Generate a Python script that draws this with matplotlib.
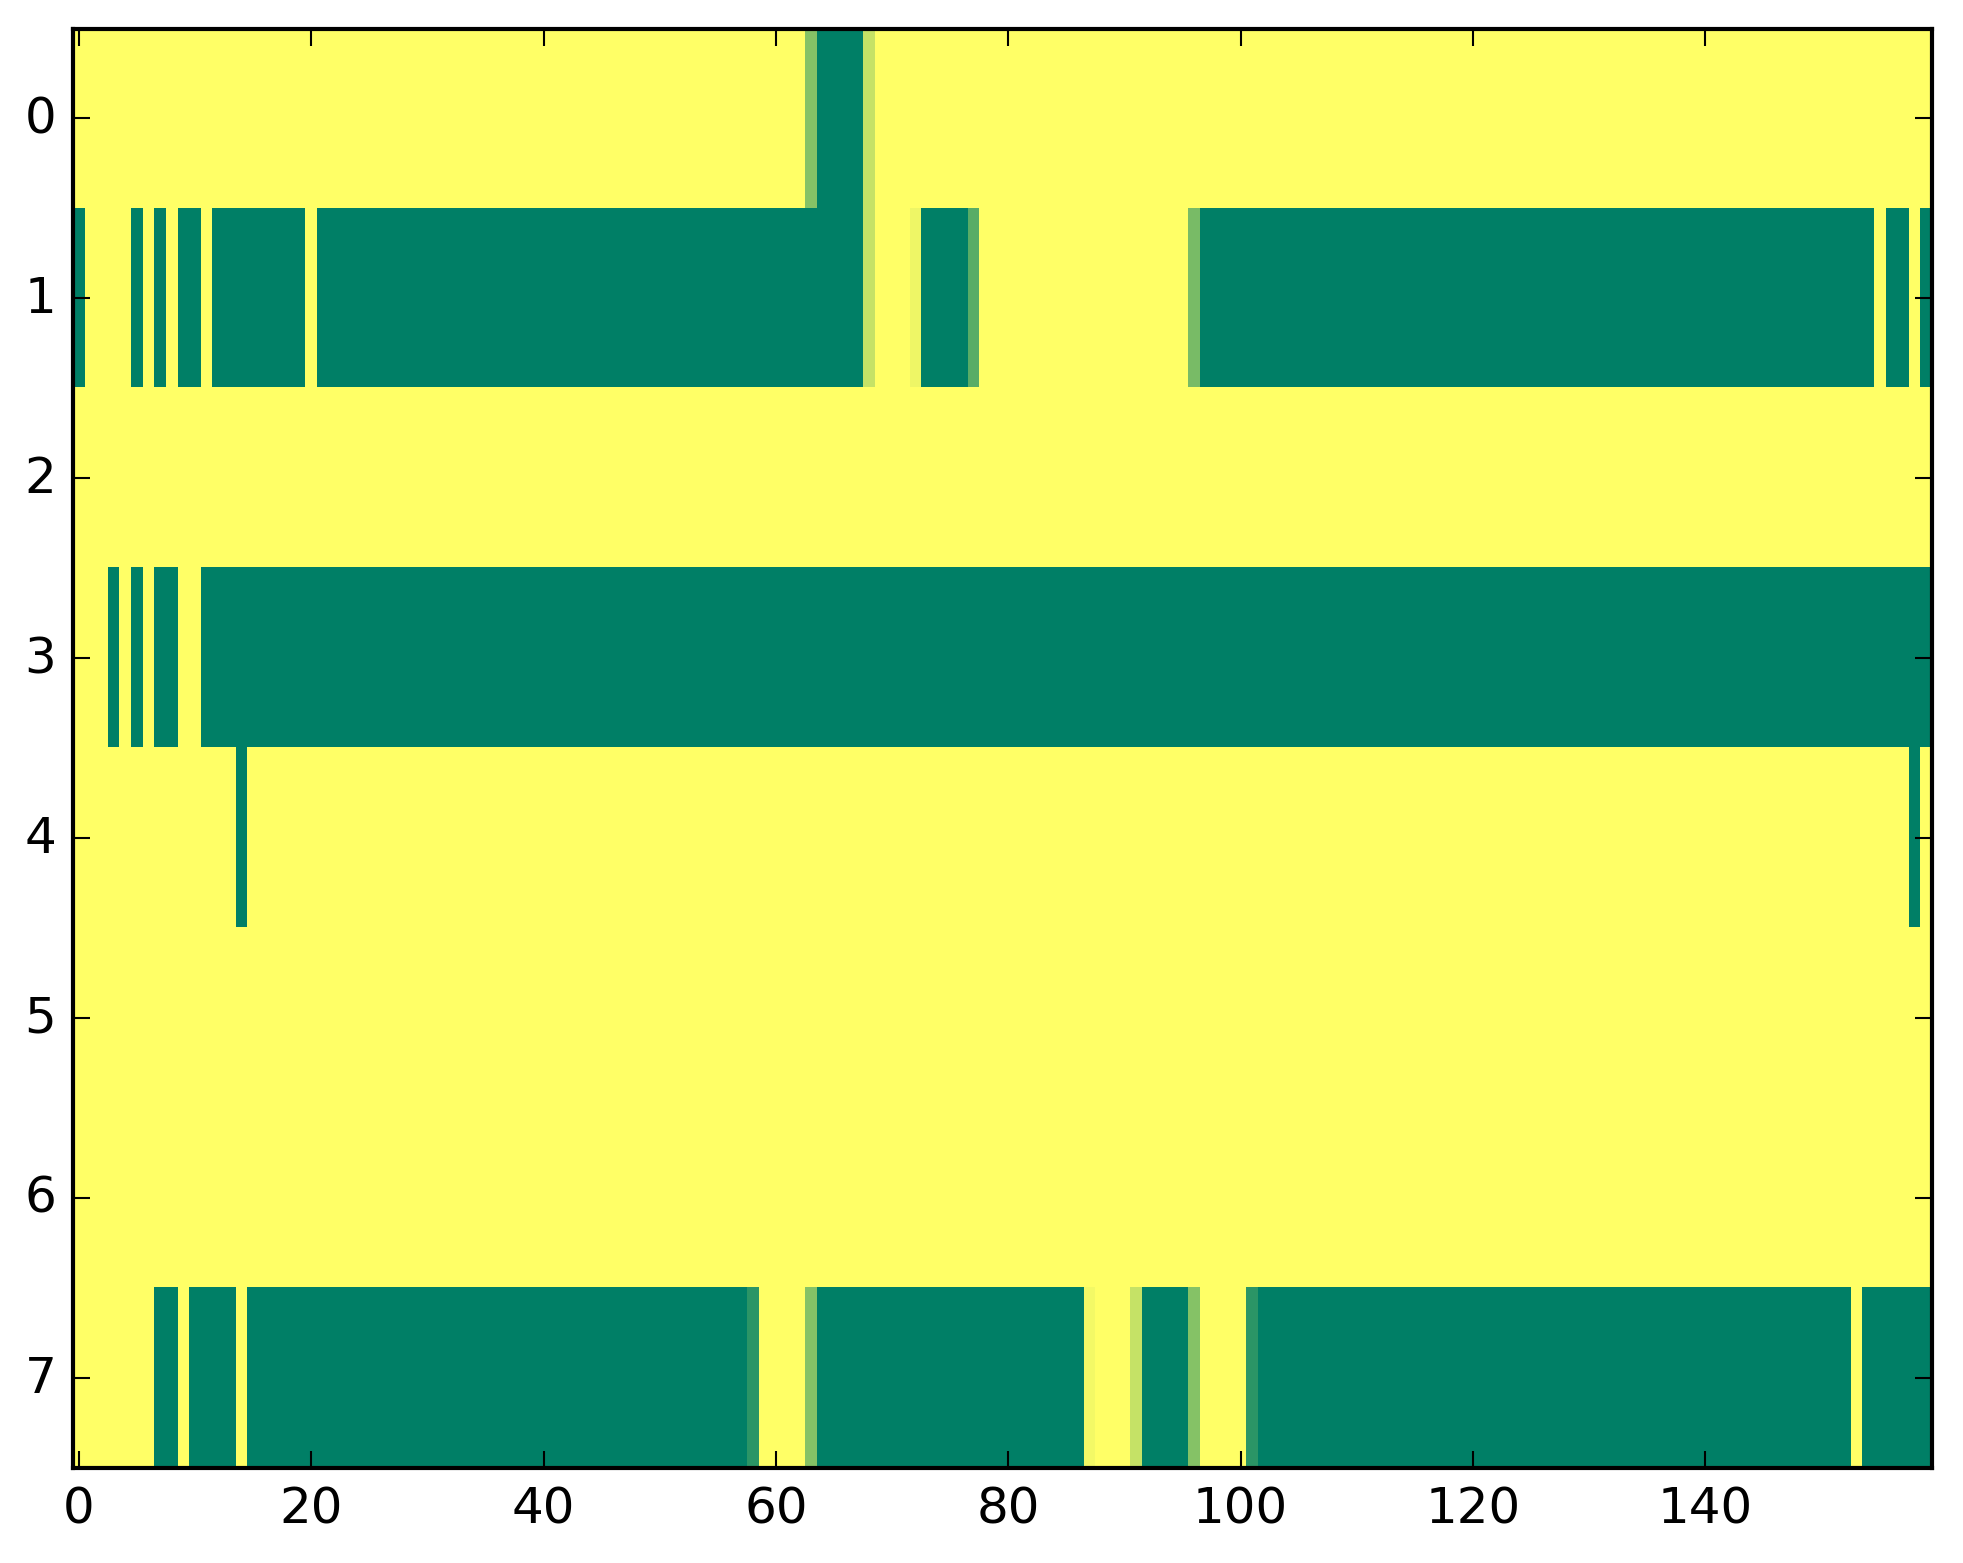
import numpy as np
import matplotlib
matplotlib.use("Agg")
import matplotlib.pyplot as plt

n_rows = 8
n_cols = 160

# runs per row: (first col, last col, value); everything else is 1.0 (yellow)
row0_runs = [(63, 63, 0.52), (64, 67, 0.0), (68, 68, 0.77)]
row1_runs = [(0, 0, 0.0), (5, 5, 0.0), (7, 7, 0.0), (9, 10, 0.0), (12, 19, 0.0),
             (21, 67, 0.0), (68, 68, 0.77), (72, 72, 0.93), (73, 76, 0.0),
             (77, 77, 0.35), (96, 96, 0.47), (97, 154, 0.0), (156, 157, 0.0),
             (159, 159, 0.0)]
row2_runs = []
row3_runs = [(3, 3, 0.0), (5, 5, 0.0), (7, 8, 0.0), (11, 159, 0.0)]
row4_runs = [(14, 14, 0.0), (158, 158, 0.0)]
row5_runs = []
row6_runs = []
row7_runs = [(7, 8, 0.0), (10, 13, 0.0), (15, 57, 0.0), (58, 58, 0.17),
             (63, 63, 0.52), (64, 86, 0.0), (87, 87, 0.95), (91, 91, 0.77),
             (92, 95, 0.0), (96, 96, 0.52), (101, 101, 0.17), (102, 152, 0.0),
             (154, 159, 0.0)]

all_runs = [row0_runs, row1_runs, row2_runs, row3_runs,
            row4_runs, row5_runs, row6_runs, row7_runs]

grid = np.ones((n_rows, n_cols))
for r, runs in enumerate(all_runs):
    for a, b, v in runs:
        grid[r, a:b + 1] = v

plt.style.use('classic')
fig = plt.figure(figsize=(1963 / 300, 1564 / 300), dpi=300, facecolor='white')
# axes box placed to match the reference pixels
ax = fig.add_axes([73 / 1963, 1 - 1468.5 / 1564, (1932 - 73) / 1963, (1468.5 - 29.5) / 1564])
ax.imshow(grid, cmap='summer', vmin=0, vmax=1, aspect='auto', interpolation='nearest')
ax.set_xlim(-0.5, n_cols - 0.5)
ax.set_ylim(n_rows - 0.5, -0.5)
ax.set_xticks(range(0, 160, 20))
ax.set_yticks(range(0, 8))
ax.tick_params(labelsize=12)

fig.savefig('out.png', dpi=300, facecolor='white')
